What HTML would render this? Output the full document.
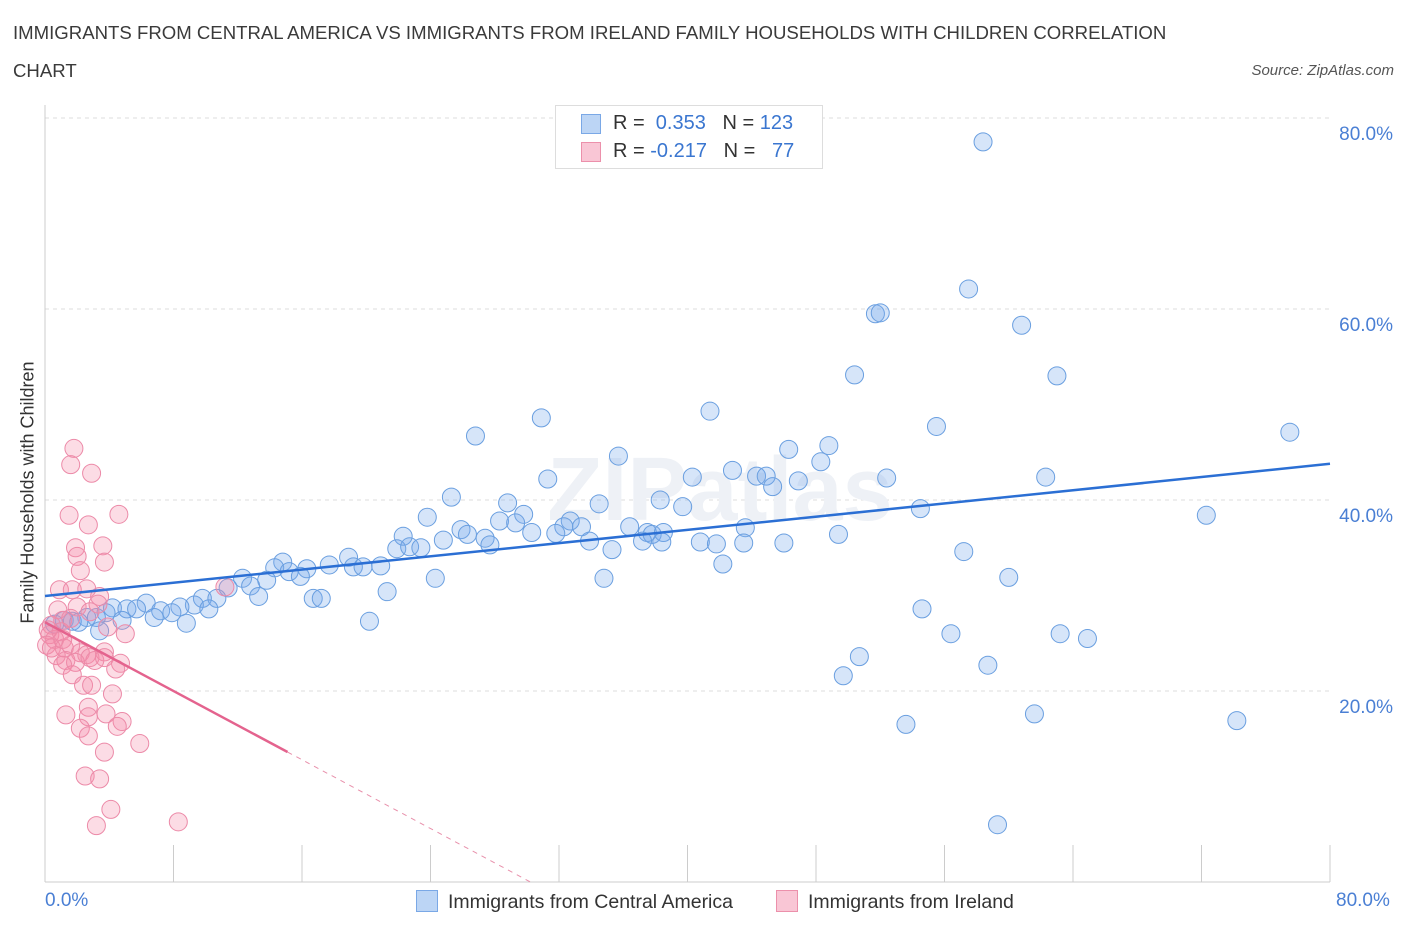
<!DOCTYPE html>
<html><head><meta charset="utf-8"><style>
body{margin:0;background:#fff;font-family:"Liberation Sans",sans-serif;}
.t{position:absolute;color:#333;}
</style></head><body>
<div style="position:relative;width:1406px;height:930px;overflow:hidden">
<div class="t" style="left:13px;top:14px;font-size:18.6px;line-height:38px;width:1200px;color:#3a3a3a">IMMIGRANTS FROM CENTRAL AMERICA VS IMMIGRANTS FROM IRELAND FAMILY HOUSEHOLDS WITH CHILDREN CORRELATION CHART</div>
<div class="t" style="right:12px;top:62px;font-size:15px;font-style:italic;color:#555">Source: ZipAtlas.com</div>
<svg id="c" width="1406" height="930" style="position:absolute;left:0;top:0"></svg>
</div>
<script>
const blueX=[58.4,57.5,51.7,52.0,60.8,50.4,63.0,41.4,30.9,26.8,77.5,55.5,48.8,46.3,35.7,48.3,42.8,31.3,40.3,44.3,44.9,45.3,46.9,52.4,62.3,25.3,28.8,34.5,38.3,39.7,54.5,72.3,23.8,29.8,28.3,29.3,25.9,32.7,32.3,33.4,36.4,43.6,26.3,22.3,30.3,31.8,37.5,37.8,38.5,24.8,27.4,27.7,33.9,37.2,38.4,40.8,41.8,43.5,46.0,49.4,21.9,22.7,23.4,35.3,57.2,18.9,14.8,14.3,17.7,19.2,19.8,20.9,15.2,16.3,15.9,12.3,13.8,24.3,34.8,42.2,60.0,11.4,12.8,21.3,13.3,16.7,17.2,9.8,10.7,6.3,9.3,8.4,4.2,5.1,7.2,5.7,10.2,7.9,6.8,54.6,3.8,2.6,3.2,4.8,1.2,1.7,2.1,8.8,20.2,0.6,3.4,56.4,63.2,64.9,50.7,58.7,49.7,61.6,53.6,74.2,59.3];
const blueY=[77.5,62.1,59.5,59.6,58.3,53.1,53.0,49.3,48.6,46.7,47.1,47.7,45.7,45.3,44.6,44.0,43.1,42.2,42.4,42.5,42.5,41.4,42.0,42.3,42.4,40.3,39.7,39.6,40.0,39.3,39.1,38.4,38.2,38.5,37.8,37.6,36.9,37.8,37.2,37.2,37.2,37.1,36.4,36.2,36.6,36.5,36.6,36.4,36.6,35.8,36.0,35.3,35.7,35.7,35.6,35.6,35.4,35.5,35.5,36.4,34.9,35.1,35.0,34.8,34.6,34.0,33.5,32.9,33.2,33.0,33.0,33.1,32.5,32.8,32.0,31.8,31.6,31.8,31.8,33.3,31.9,30.8,31.0,30.4,29.9,29.7,29.7,29.7,29.7,29.2,29.0,28.8,28.7,28.6,28.4,28.6,28.6,28.2,27.7,28.6,28.2,27.7,27.7,27.4,27.4,27.3,27.2,27.1,27.3,27.0,26.3,26.0,26.0,25.5,23.6,22.7,21.6,17.6,16.5,16.9,6.0];
const pinkX=[1.8,1.6,2.9,1.5,4.6,2.7,1.9,3.6,2.0,3.7,2.2,0.9,1.7,2.6,3.4,3.3,0.8,2.0,2.8,11.2,1.1,1.6,0.4,0.2,0.3,0.6,0.1,1.0,1.1,3.9,5.0,0.4,1.2,1.6,2.2,2.6,3.7,0.7,1.3,1.9,2.8,3.1,3.7,1.1,4.7,4.4,1.7,2.4,2.9,4.2,1.3,2.7,2.7,3.8,4.8,4.5,2.2,2.7,5.9,3.7,2.5,3.4,4.1,3.2,8.3];
const pinkY=[45.4,43.7,42.8,38.4,38.5,37.4,35.0,35.2,34.1,33.5,32.6,30.6,30.6,30.7,29.9,29.1,28.5,28.8,28.3,30.9,27.4,27.6,26.9,26.4,25.9,25.4,24.8,26.2,25.4,26.7,26.0,24.5,24.5,24.8,24.0,23.8,24.1,23.7,23.2,23.0,23.5,23.2,23.5,22.7,22.9,22.3,21.7,20.6,20.6,19.7,17.5,18.3,17.3,17.6,16.8,16.3,16.1,15.3,14.5,13.6,11.1,10.8,7.6,5.9,6.3];
const yTicks=[20,40,60,80];
const yTickLabels=["20.0%","40.0%","60.0%","80.0%"];
const xTicks=[0,8,16,24,32,40,48,56,64,72,80];
const blueTrend=[29.95,0.173];
const pinkTrend=[27.2,-0.9];
const NS="http://www.w3.org/2000/svg";
const svg=document.getElementById('c');
const xs=v=>45+v*1285/80, ys=v=>882-v*9.55;
function mk(tag,a,p){const e=document.createElementNS(NS,tag);for(const k in a)e.setAttribute(k,a[k]);(p||svg).appendChild(e);return e;}
yTicks.forEach((t,i)=>{
 const g=mk('line',{x1:45,x2:1330,y1:ys(t),y2:ys(t),stroke:'#ddd','stroke-dasharray':'4,4'});
 
 
 const tx=mk('text',{x:1393,y:ys(t)+22,'text-anchor':'end','font-size':19,fill:'#4a7fd4','font-family':'Liberation Sans, sans-serif'});
 tx.textContent=yTickLabels[i];
 
 
});
xTicks.forEach(t=>{
 const l=mk('line',{x1:xs(t),x2:xs(t),y1:845,y2:882,stroke:'#ccc'});
 
 
});
mk('line',{x1:45,x2:45,y1:105,y2:882,stroke:'#ccc'});
mk('line',{x1:45,x2:1330,y1:882,y2:882,stroke:'#ccc'});
const wm=mk('text',{x:720,y:520,'text-anchor':'middle','font-size':90,'font-weight':'bold',fill:'#eef1f6','font-family':'Liberation Sans, sans-serif'});
wm.textContent='ZIPatlas';


blueX.forEach((x,i)=>{
 const c=mk('circle',{cx:xs(x),cy:ys(blueY[i]),r:9,fill:'rgba(120,170,235,0.3)',stroke:'#6a9fe0','stroke-width':1});
 
 
});
pinkX.forEach((x,i)=>{
 const c=mk('circle',{cx:xs(x),cy:ys(pinkY[i]),r:9,fill:'rgba(245,140,170,0.3)',stroke:'#ec8aa8','stroke-width':1});
 
 
});
const bt=mk('line',{x1:xs(0),y1:ys(blueTrend[0]),x2:xs(80),y2:ys(blueTrend[0]+80*blueTrend[1]),stroke:'#2b6fd4','stroke-width':2.5});


const xe=15.1, x0=-pinkTrend[0]/pinkTrend[1];
const pt=mk('line',{x1:xs(0),y1:ys(pinkTrend[0]),x2:xs(xe),y2:ys(pinkTrend[0]+xe*pinkTrend[1]),stroke:'#e4638e','stroke-width':2.5});


const pd=mk('line',{x1:xs(xe),y1:ys(pinkTrend[0]+xe*pinkTrend[1]),x2:xs(x0),y2:ys(0),stroke:'#e890ab','stroke-width':1,'stroke-dasharray':'5,5'});


</script>
<div style="position:absolute;left:555px;top:105px;width:266px;height:62px;border:1px solid #ddd;background:#fff;font-size:20px;color:#333">
 <div style="position:absolute;left:25px;top:8px;width:18px;height:18px;background:#bcd5f5;border:1px solid #7aa8e6"></div>
 <div style="position:absolute;left:57px;top:6px">R = &nbsp;<span style="color:#3a76d0">0.353</span> &nbsp; N = <span style="color:#3a76d0">123</span></div>
 <div style="position:absolute;left:25px;top:36px;width:18px;height:18px;background:#f9c6d5;border:1px solid #ec90ab"></div>
 <div style="position:absolute;left:57px;top:34px">R = <span style="color:#3a76d0">-0.217</span> &nbsp; N = &nbsp; <span style="color:#3a76d0">77</span></div>
</div>
<div class="t" style="left:-122px;top:482px;width:300px;text-align:center;transform:rotate(-90deg);font-size:18px;white-space:nowrap">Family Households with Children</div>
<div class="t" style="left:45px;top:890px;font-size:19px;color:#4a7fd4">0.0%</div>
<div class="t" style="left:1336px;top:890px;font-size:19px;color:#4a7fd4">80.0%</div>
<div style="position:absolute;left:416px;top:890px;font-size:19.5px;color:#333">
 <span style="display:inline-block;width:20px;height:20px;background:#bcd5f5;border:1px solid #7aa8e6;vertical-align:-4px;margin-right:10px"></span>Immigrants from Central America</div>
<div style="position:absolute;left:776px;top:890px;font-size:19.5px;color:#333">
 <span style="display:inline-block;width:20px;height:20px;background:#f9c6d5;border:1px solid #ec90ab;vertical-align:-4px;margin-right:10px"></span>Immigrants from Ireland</div>
</body></html>
